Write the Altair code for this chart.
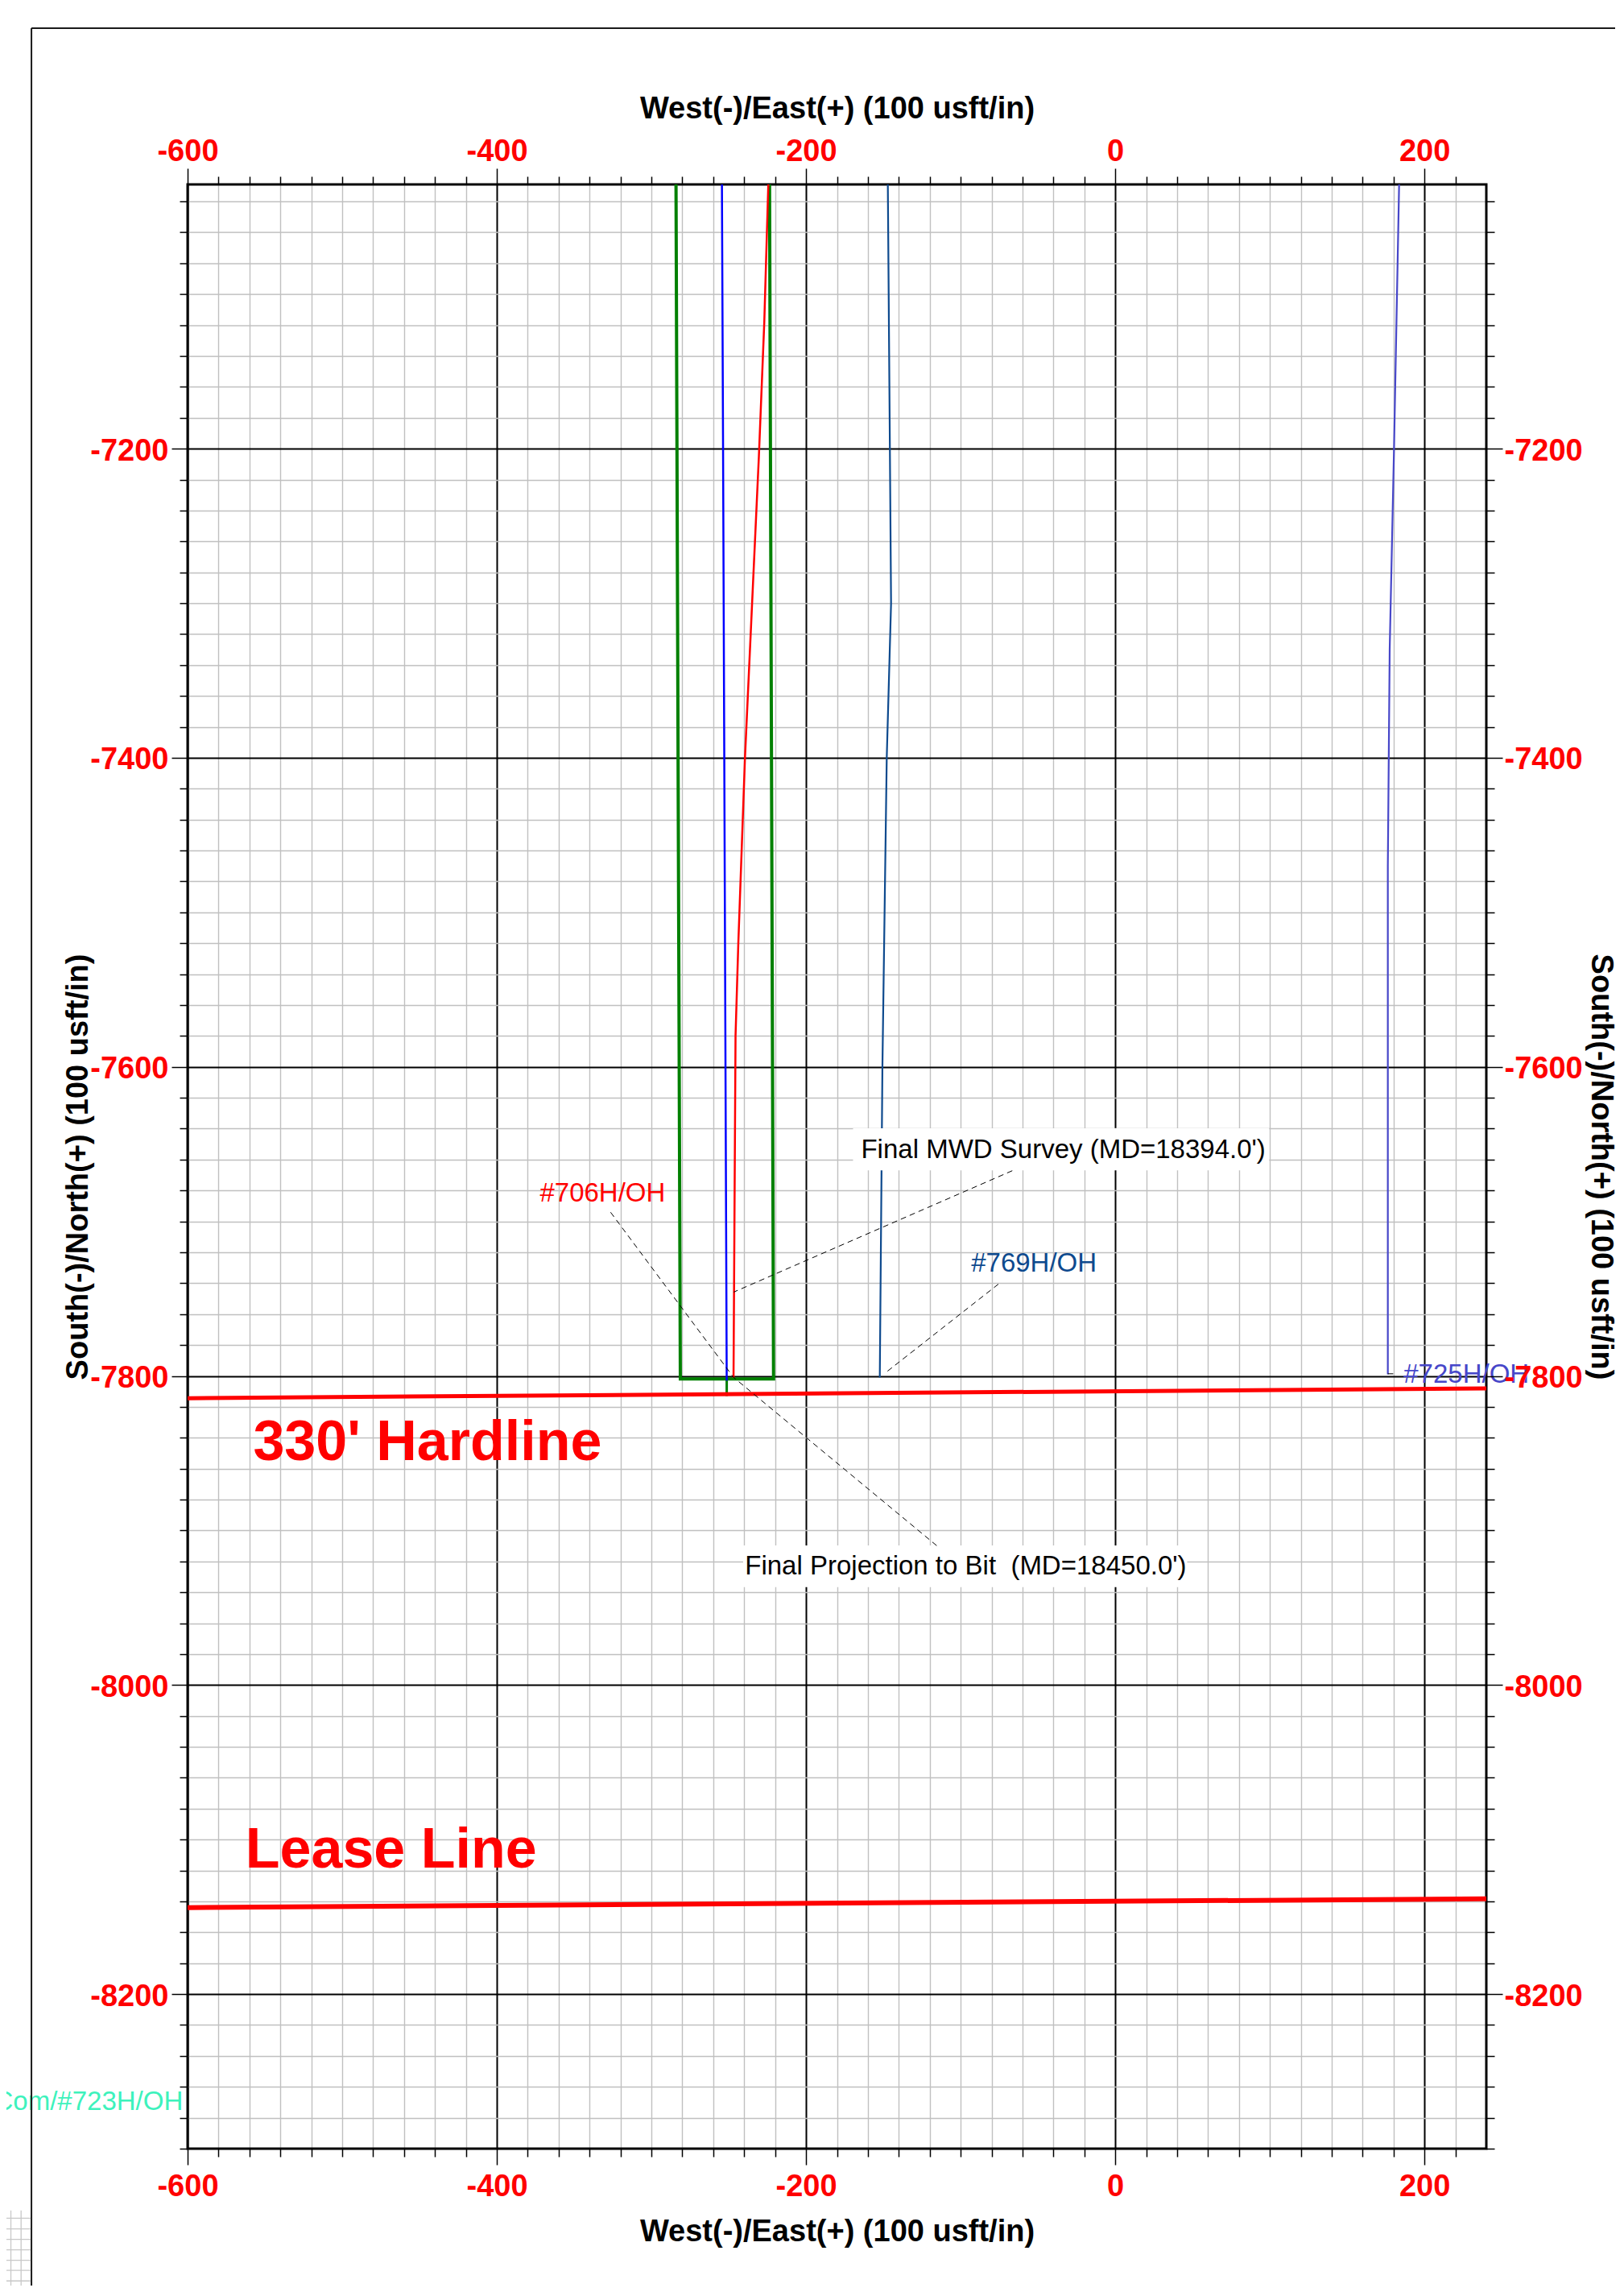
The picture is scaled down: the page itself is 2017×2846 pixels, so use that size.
import altair as alt
import pandas as pd

# ---------------- axes ----------------
x_domain = [-600, 240]
y_domain = [-8300, -7029]
x_ticks = list(range(-600, 240, 20))
y_ticks = list(range(-8300, -7029, 20))
x_title = "West(-)/East(+) (100 usft/in)"
y_title = "South(-)/North(+) (100 usft/in)"

# ---------------- well paths (E/W, N/S) ----------------
green_box_x = [-284.1, -281.3, -221.0, -223.6]
green_box_y = [-7029, -7802, -7802, -7029]
green_stub_x = [-251.3, -251.3]
green_stub_y = [-7802, -7813]
blue_x = [-254.4, -253.7, -251.3]
blue_y = [-7029, -7191, -7803]
w706_x = [-224.4, -227.0, -230.5, -239.5, -243.8, -245.6, -246.9]
w706_y = [-7029, -7118, -7205, -7400, -7520, -7580, -7801]
w769_x = [-147.1, -145.6, -145.0, -147.8, -150.6, -152.3]
w769_y = [-7029, -7222, -7300, -7400, -7600, -7801]
w725_x = [183.6, 180.3, 177.5, 176.3, 176.3]
w725_y = [-7029, -7200, -7330, -7470, -7799]

hardline_x = [-600, 240]
hardline_y = [-7814.4, -7808.1]
lease_x = [-600, 240]
lease_y = [-8144.0, -8138.3]

# ---------------- annotation boxes / leaders ----------------
box_x = [-169.6, -240.7]
box_x2 = [99.5, 46.5]
box_y = [-7639.8, -7909.7]
box_y2 = [-7667.0, -7936.7]

leader_x = [-66.6, -326.4, -115.5, -75.6, 176.3]
leader_y = [-7667.2, -7694.1, -7909.8, -7740.6, -7798.6]
leader_x2 = [-246.7, -246.9, -246.9, -147.3, 179.8]
leader_y2 = [-7745.7, -7800.9, -7800.9, -7796.9, -7798.6]

label_text = ["Final MWD Survey (MD=18394.0')",
              "Final Projection to Bit \u00a0(MD=18450.0')",
              "#706H/OH", "#769H/OH", "#725H/OH"]
label_x = [-164.4, -239.5, -372.2, -93.2, 186.5]
label_y = [-7659.2, -7928.3, -7687.2, -7732.7, -7804.2]
label_color = ["#000000", "#000000", "#FF0000", "#0E4A8E", "#4747C9"]

side_text = ["Com/#723H/OH"]
side_x = [-603.0]
side_y = [-8274.8]

big_text = ["330' Hardline", "Lease Line"]
big_x = [-557.6, -562.6]
big_y = [-7854.2, -8118.1]

# page frame remnants (outside the plot)
page_h_x = [-701.0]
page_h_x2 = [329.0]
page_h_y = [-6927.9]
page_v_x = [-701.0]
page_v_y = [-6927.9]
page_v_y2 = [-8392.5]
corner_vx = [-714.3, -707.7]
corner_hy = [-8345.0, -8351.9, -8358.7, -8365.5, -8372.2, -8378.8, -8385.6]

FONT = "Liberation Sans"
xs = alt.Scale(domain=x_domain, nice=False, zero=False)
ys = alt.Scale(domain=y_domain, nice=False, zero=False)

major = "datum.value % 200 === 0"
tick_size = {"condition": {"test": major, "value": 20}, "value": 10}
label_expr = f"{major} ? '' + datum.value : ''"
common = dict(tickSize=tick_size, tickColor="black", tickWidth=1.5, domain=False,
              labelExpr=label_expr, labelFont=FONT, labelFontSize=38,
              labelFontWeight="bold", labelColor="#FF0000", labelOverlap=False,
              labelFlush=False, titleFont=FONT, titleFontSize=38,
              titleFontWeight="bold", titleColor="black")
grid_color = {"condition": {"test": major, "value": "#000000"}, "value": "#C0C0C0"}
grid_width = {"condition": {"test": major, "value": 2}, "value": 1.4}

W, H = 1613, 2439

ax_bottom = alt.Axis(orient="bottom", values=x_ticks, grid=True, gridColor=grid_color,
                     gridWidth=grid_width, labelBaseline="alphabetic", labelPadding=38,
                     title=x_title, titleX=W / 2, titleY=114.7, titleAlign="center",
                     titleBaseline="alphabetic", titleAngle=0, **common)
ax_left = alt.Axis(orient="left", values=y_ticks, grid=True, gridColor=grid_color,
                   gridWidth=grid_width, labelAlign="right", labelBaseline="alphabetic",
                   labelOffset=14, labelPadding=4, title=y_title, titleX=-125,
                   titleY=H / 2, titleAngle=270, titleAlign="center",
                   titleBaseline="alphabetic", **common)
ax_top = alt.Axis(orient="top", values=x_ticks, grid=False, labelBaseline="alphabetic",
                  labelPadding=10, title=x_title, titleX=W / 2, titleY=-82.5,
                  titleAlign="center", titleBaseline="alphabetic", titleAngle=0,
                  zindex=1, **common)
ax_right = alt.Axis(orient="right", values=y_ticks, grid=False, labelAlign="left",
                    labelBaseline="alphabetic", labelOffset=14, labelPadding=2,
                    title=y_title, titleX=130, titleY=H / 2, titleAngle=90,
                    titleAlign="center", titleBaseline="alphabetic", zindex=1, **common)


def xy(ax_x=None, ax_y=None):
    return dict(x=alt.X("x:Q", scale=xs, axis=ax_x), y=alt.Y("y:Q", scale=ys, axis=ax_y))


def path(xv, yv, color, width, ax_x=None, ax_y=None):
    df = pd.DataFrame({"x": xv, "y": yv, "i": list(range(len(xv)))})
    return alt.Chart(df).mark_line(color=color, strokeWidth=width, clip=True,
                                   strokeCap="butt", strokeJoin="miter").encode(
        order="i:Q", **xy(ax_x, ax_y))


layers = []

# plot frame carrying bottom/left axes (with grid)
frame_df = pd.DataFrame({"x": [x_domain[0]], "x2": [x_domain[1]],
                         "y": [y_domain[0]], "y2": [y_domain[1]]})
layers.append(alt.Chart(frame_df).mark_rect(fillOpacity=0, stroke="black", strokeWidth=3).encode(
    x2="x2:Q", y2="y2:Q", **xy(ax_bottom, ax_left)))

# wells
layers.append(path(green_box_x, green_box_y, "#008000", 4))
layers.append(path(green_stub_x, green_stub_y, "#008000", 3))
layers.append(path(blue_x, blue_y, "#0000FF", 2.5))
layers.append(path(w769_x, w769_y, "#0E4A8E", 2.2))
layers.append(path(w725_x, w725_y, "#4747C9", 2.2))
layers.append(path(w706_x, w706_y, "#FF0000", 2.5))

# hardline (carries top/right axes) and lease line
layers.append(path(hardline_x, hardline_y, "#FF0000", 5, ax_top, ax_right))
layers.append(path(lease_x, lease_y, "#FF0000", 6))

# white label boxes
box_df = pd.DataFrame({"x": box_x, "x2": box_x2, "y": box_y, "y2": box_y2})
layers.append(alt.Chart(box_df).mark_rect(fill="white", stroke=None if False else "white",
                                          strokeWidth=0).encode(
    x2="x2:Q", y2="y2:Q", **xy()))

# leader lines
lead_df = pd.DataFrame({"x": leader_x, "y": leader_y, "x2": leader_x2, "y2": leader_y2})
layers.append(alt.Chart(lead_df).mark_rule(color="black", strokeWidth=1, strokeDash=[7, 5]).encode(
    x2="x2:Q", y2="y2:Q", **xy()))

# labels
lab_df = pd.DataFrame({"x": label_x, "y": label_y, "t": label_text, "c": label_color})
layers.append(alt.Chart(lab_df).mark_text(font=FONT, fontSize=33, align="left",
                                          baseline="alphabetic").encode(
    text="t:N", color=alt.Color("c:N", scale=None), **xy()))

side_df = pd.DataFrame({"x": side_x, "y": side_y, "t": side_text})
layers.append(alt.Chart(side_df).mark_text(font=FONT, fontSize=33, align="right",
                                           baseline="alphabetic", color="#3DF2BC").encode(
    text="t:N", **xy()))

big_df = pd.DataFrame({"x": big_x, "y": big_y, "t": big_text})
layers.append(alt.Chart(big_df).mark_text(font=FONT, fontSize=70, fontWeight="bold", align="left",
                                          baseline="alphabetic", color="#FF0000").encode(
    text="t:N", **xy()))

# page frame remnants
ph = pd.DataFrame({"x": page_h_x, "x2": page_h_x2, "y": page_h_y})
layers.append(alt.Chart(ph).mark_rule(color="#1A1A1A", strokeWidth=2).encode(x2="x2:Q", **xy()))
pv = pd.DataFrame({"x": page_v_x, "y": page_v_y, "y2": page_v_y2})
layers.append(alt.Chart(pv).mark_rule(color="#1A1A1A", strokeWidth=2).encode(y2="y2:Q", **xy()))
cv = pd.DataFrame({"x": corner_vx, "y": [-8340.0] * len(corner_vx), "y2": [-8392.5] * len(corner_vx)})
layers.append(alt.Chart(cv).mark_rule(color="#C8C8C8", strokeWidth=1.3).encode(y2="y2:Q", **xy()))
ch = pd.DataFrame({"y": corner_hy, "x": [-721.3] * len(corner_hy), "x2": [-701.5] * len(corner_hy)})
layers.append(alt.Chart(ch).mark_rule(color="#C8C8C8", strokeWidth=1.3).encode(x2="x2:Q", **xy()))

chart = alt.layer(*layers).resolve_axis(x="independent", y="independent").properties(
    width=W, height=H,
    padding={"left": 225, "top": 221, "right": 160, "bottom": 170},
    autosize=alt.AutoSizeParams(type="none"),
    background="white",
).configure_view(strokeWidth=0)

chart.save("out.html", embed_options={"renderer": "svg", "actions": False})
